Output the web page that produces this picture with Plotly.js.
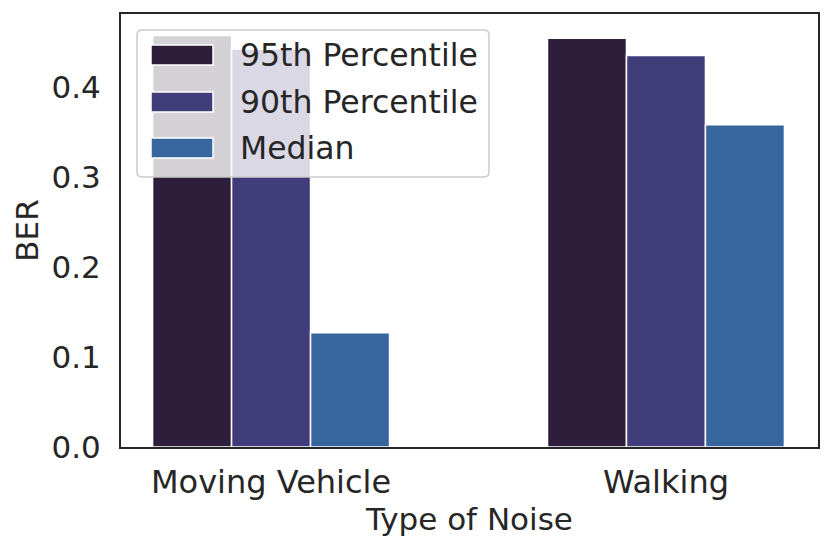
<!DOCTYPE html>
<html>
<head>
<meta charset="utf-8">
<script src="https://cdn.plot.ly/plotly-3.0.1.min.js"></script>
<style>html,body{margin:0;padding:0;background:#fff;}#chart{width:831px;height:550px;}</style>
</head>
<body>
<div id="chart"></div>
<script>
const categories = ["Moving Vehicle", "Walking"];
const seriesNames = ["95th Percentile", "90th Percentile", "Median"];
const p95 = [0.457, 0.454];
const p90 = [0.442, 0.435];
const median = [0.127, 0.358];
const colors = ["#2e1e3b", "#413d7b", "#37659e"];
const yTickVals = [0.0, 0.1, 0.2, 0.3, 0.4];

const seriesValues = [p95, p90, median];
const traces = seriesValues.map((vals, i) => ({
  type: "bar",
  name: seriesNames[i],
  x: categories,
  y: vals,
  marker: {color: colors[i], line: {color: "#ffffff", width: 1.5}},
  hoverinfo: "x+y+name"
}));

// Plot area in pixels (for converting legend box positions into paper fractions)
const W = 831, H = 550, ML = 121, MR = 13, MT = 14, MB = 103;
const PW = W - ML - MR, PH = H - MT - MB;
const px = v => (v - ML) / PW;
const py = v => (H - MB - v) / PH;

// Custom legend (box, swatches, labels)
const shapes = [];
const annotations = [];
{
  const x0 = px(137), x1 = px(489), y1 = py(30), y0 = py(177);
  const rx = 5 / PW, ry = 5 / PH;
  shapes.push({
    type: "path", xref: "paper", yref: "paper", layer: "above",
    path: `M ${x0+rx},${y1} L ${x1-rx},${y1} Q ${x1},${y1} ${x1},${y1-ry} L ${x1},${y0+ry} Q ${x1},${y0} ${x1-rx},${y0} L ${x0+rx},${y0} Q ${x0},${y0} ${x0},${y0+ry} L ${x0},${y1-ry} Q ${x0},${y1} ${x0+rx},${y1} Z`,
    fillcolor: "rgba(255,255,255,0.8)",
    line: {color: "#cccccc", width: 1.5}
  });
  const rowCenters = [55, 102, 148];
  seriesNames.forEach((name, i) => {
    const c = rowCenters[i];
    shapes.push({
      type: "rect", xref: "paper", yref: "paper", layer: "above",
      x0: px(151), x1: px(213), y0: py(c + 10), y1: py(c - 10),
      fillcolor: colors[i], line: {color: "#ffffff", width: 1.5}
    });
    annotations.push({
      xref: "paper", yref: "paper", x: px(238), y: py(c),
      xanchor: "left", yanchor: "middle", showarrow: false,
      text: name,
      font: {family: "DejaVu Sans, sans-serif", size: 31.5, color: "#262626"}
    });
  });
}

const layout = {
  width: W, height: H,
  margin: {l: ML, r: MR, t: MT, b: MB},
  paper_bgcolor: "#ffffff", plot_bgcolor: "#ffffff",
  font: {family: "DejaVu Sans, sans-serif", size: 32, color: "#262626"},
  barmode: "group",
  bargap: 0.40,
  bargroupgap: 0,
  showlegend: false,
  shapes: shapes,
  annotations: annotations,
  xaxis: {
    range: [-0.38, 1.385],
    showline: true, linecolor: "#262626", linewidth: 2, mirror: true,
    ticks: "", showgrid: false, zeroline: false,
    tickfont: {size: 32},
    ticklabelstandoff: 6,
    title: {text: "Type of Noise", font: {size: 31}, standoff: 8}
  },
  yaxis: {
    range: [0, 0.481],
    tickvals: yTickVals, tickformat: ".1f",
    showline: true, linecolor: "#262626", linewidth: 2, mirror: true,
    ticks: "", showgrid: false, zeroline: false,
    tickfont: {size: 31},
    ticklabelstandoff: 12,
    title: {text: "BER", font: {size: 31}, standoff: 4}
  }
};

Plotly.newPlot("chart", traces, layout, {displayModeBar: false, staticPlot: true});
</script>
</body>
</html>
